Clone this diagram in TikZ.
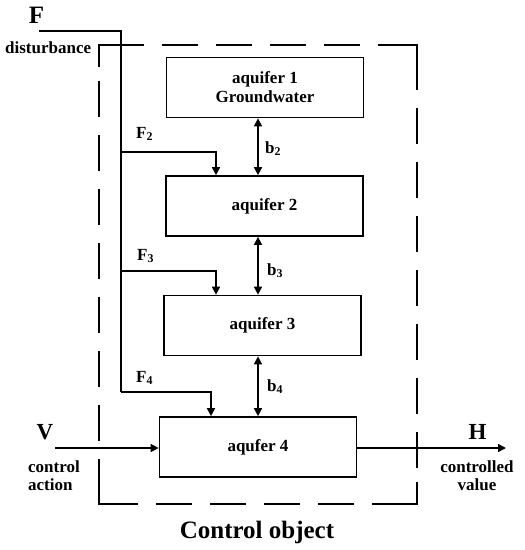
\documentclass[tikz,border=0pt]{standalone}
\usepackage{fontspec}
\setmainfont{Liberation Serif}
\usetikzlibrary{arrows.meta,calc}
\tikzset{
  box/.style={draw, line width=1.7pt, minimum width=197pt, minimum height=60pt, inner sep=0pt, align=center, font=\fontsize{17}{19}\selectfont\bfseries},
  conn/.style={line width=1.5pt},
  arr/.style={conn, -{Triangle[length=8pt,width=8pt]}},
  darr/.style={conn, {Triangle[length=8pt,width=8pt]}-{Triangle[length=8pt,width=8pt]}},
  lbl/.style={inner sep=0pt, font=\fontsize{17}{18}\selectfont\bfseries},
  big/.style={inner sep=0pt, font=\fontsize{25}{28}\selectfont\bfseries},
  frame/.style={line width=2pt, dash pattern=on 36pt off 18pt},
  corner/.style={line width=2pt}
}
\begin{document}
\begin{tikzpicture}[x=1pt,y=-1pt]
\useasboundingbox (0,0) rectangle (525,550);
% control object frame
\coordinate (c1) at (99,45);
\coordinate (c2) at (417,45);
\coordinate (c3) at (417,504);
\coordinate (c4) at (99,504);
\draw[frame, dash phase=-9pt] (c1) -- (c2);
\draw[frame, dash phase=-9pt] (c2) -- (c3);
\draw[frame, dash phase=-9pt] (c3) -- (c4);
\draw[frame, dash phase=-9pt] (c4) -- (c1);
\draw[corner] ($(c1)+(0,22)$) -- (c1) -- ($(c1)+(22,0)$);
\draw[corner] ($(c2)+(-14,0)$) -- (c2) -- ($(c2)+(0,22)$);
\draw[corner] ($(c3)+(0,-22)$) -- (c3) -- ($(c3)+(-22,0)$);
\draw[corner] ($(c4)+(14,0)$) -- (c4) -- ($(c4)+(0,-14)$);
% boxes
\node[box] (a1) at (265,87.5) {aquifer 1\\Groundwater};
\node[box] (a2) at (264.5,206) {aquifer 2};
\node[box] (a3) at (262.5,325.5) {aquifer 3};
\node[box] (a4) at (258,447) {aqufer 4};
% disturbance line
\coordinate (fs) at (39,31);
\coordinate (fc) at (121,31);
\coordinate (j2) at (121,152);
\coordinate (j3) at (121,271);
\coordinate (j4) at (121,392);
\coordinate (t2) at (216,0);
\coordinate (t3) at (216,0);
\coordinate (t4) at (211,0);
\draw[conn] (fs) -- (fc) -- (j4);
\draw[arr] (j2) -| (t2 |- a2.north);
\draw[arr] (j3) -| (t3 |- a3.north);
\draw[arr] (j4) -| (t4 |- a4.north);
% exchange arrows
\coordinate (bx) at (258,0);
\draw[darr] (bx |- a1.south) -- (bx |- a2.north);
\draw[darr] (bx |- a2.south) -- (bx |- a3.north);
\draw[darr] (bx |- a3.south) -- (bx |- a4.north);
% control action and output
\coordinate (vs) at (55,448);
\coordinate (he) at (506,448);
\draw[arr] (vs) -- (vs -| a4.west);
\draw[arr] (he -| a4.east) -- (he);
% labels
\node[big, anchor=base] (F) at (36.5,23) {F};
\node[lbl, anchor=base west] (dist) at (5,53) {disturbance};
\node[lbl, anchor=base west] (F2) at (136,138) {F\textsubscript{2}};
\node[lbl, anchor=base west] (F3) at (137,260) {F\textsubscript{3}};
\node[lbl, anchor=base west] (F4) at (136,382) {F\textsubscript{4}};
\node[lbl, anchor=base west] (b2) at (265,153) {b\textsubscript{2}};
\node[lbl, anchor=base west] (b3) at (267,275) {b\textsubscript{3}};
\node[lbl, anchor=base west] (b4) at (267,391) {b\textsubscript{4}};
\node[big, font=\fontsize{23}{26}\selectfont\bfseries, anchor=base] (V) at (45,439) {V};
\node[big, font=\fontsize{23}{26}\selectfont\bfseries, anchor=base] (H) at (477.5,439) {H};
\node[lbl, align=left, anchor=west] (ca) at (28,476) {control\\action};
\node[lbl, align=center] (cv) at (477,476) {controlled\\value};
\node[big, anchor=base] (co) at (257,538) {Control object};
\end{tikzpicture}
\end{document}
